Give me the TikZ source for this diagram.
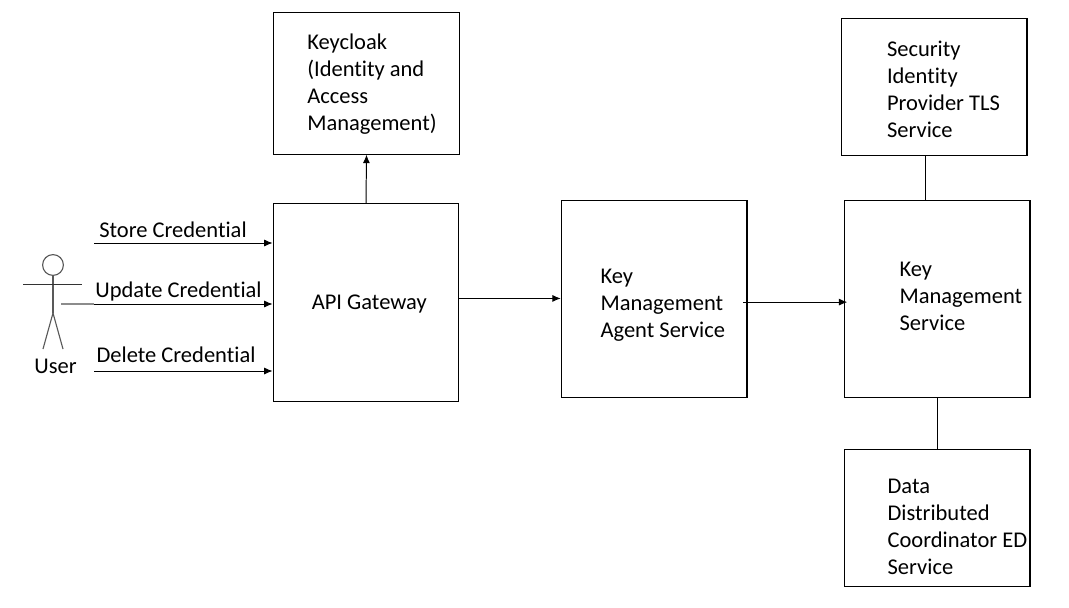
\documentclass[tikz,border=0pt]{standalone}
\usepackage{fontspec}
\setmainfont[Ligatures=NoCommon]{Carlito}
\usetikzlibrary{arrows.meta}

% text inside a box: left inset, vertical shift, lines
\newcommand{\svctext}[3]{\hspace*{#1}\raisebox{\dimexpr #2-4.6pt\relax}[0pt][0pt]{\parbox[c]{\dimexpr 4.64cm-#1\relax}{\raggedright #3}}}

\tikzset{
    svcbox/.style={draw, line width=0.8pt, inner sep=0pt, minimum width=4.64cm, minimum height=#1},
    flow/.style={-{Latex[length=6pt,width=5pt]}, line width=0.7pt},
    link/.style={line width=0.7pt},
    stick/.style={draw=black!65, line width=0.8pt},
    lbl/.style={inner sep=0pt}
}

\begin{document}
\begin{tikzpicture}[x=0.025cm, y=-0.025cm, font=\fontsize{16}{19.14}\selectfont]
    \useasboundingbox (0,0) rectangle (1069,607);

    % Services
    \node[svcbox=3.53cm] (keycloak) at (366.5,83.5) {\svctext{0.84cm}{0pt}{Keycloak\\(Identity and\\Access\\Management)}};
    \node[svcbox=4.95cm] (gateway) at (366,302.5) {\svctext{0.965cm}{-0.7pt}{API Gateway}};
    \node[svcbox=4.92cm] (agent) at (654.2,299) {\svctext{0.98cm}{-4.4pt}{Key\\Management\\Agent Service}};
    \node[svcbox=4.92cm] (kms) at (937.2,299) {\svctext{1.38cm}{2pt}{Key\\Management\\Service}};
    \node[svcbox=3.42cm] (tls) at (934.2,87) {\svctext{1.14cm}{-1.3pt}{Security\\Identity\\Provider TLS\\Service}};
    \node[svcbox=3.42cm] (ed) at (937.2,518) {\svctext{1.08cm}{-6pt}{Data\\Distributed\\Coordinator ED\\Service}};

    % User
    \node[circle, stick, fill=white, minimum size=0.52cm, inner sep=0pt] (head) at (53,265) {};
    \coordinate (hip) at (53,313);
    \coordinate (handL) at (23,284);
    \coordinate (handR) at (82,284);
    \coordinate (footL) at (43,349);
    \coordinate (footR) at (63,349);
    \draw[stick] (head.south) -- (hip);
    \draw[stick] (hip) -- (footL);
    \draw[stick] (hip) -- (footR);
    \draw[line width=0.7pt, black!80] (handL) -- (handR);
    \node[lbl] (user) at (55.5,366) {User};

    % Requests
    \coordinate (storeFrom) at (94,243);
    \coordinate (updateFrom) at (94,304);
    \coordinate (deleteFrom) at (94,371);
    \coordinate (grip) at (61,304);
    \draw[black!45, line width=1.1pt] (grip) -- (updateFrom);
    \draw[flow] (storeFrom) -- (storeFrom -| gateway.west);
    \draw[flow] (updateFrom) -- (updateFrom -| gateway.west);
    \draw[flow] (deleteFrom) -- (deleteFrom -| gateway.west);
    \node[lbl] (store) at (173,230) {Store Credential};
    \node[lbl] (update) at (178.5,291.5) {Update Credential};
    \node[lbl] (delete) at (176,355) {Delete Credential};

    % Connections
    \draw[flow] (gateway.north) -- (keycloak.south);
    \draw[flow] ([yshift=0.4pt]gateway.east |- agent.west) -- ([yshift=0.4pt]agent.west);
    \draw[flow] ([xshift=-3pt,yshift=-2.2pt]agent.east) -- ([xshift=2.5pt,yshift=-2.2pt]kms.west);
    \draw[link] ([xshift=-0.225cm]tls.south) -- ([xshift=-0.225cm]tls.south |- kms.north);
    \draw[link] (kms.south) -- (ed.north);
\end{tikzpicture}
\end{document}
